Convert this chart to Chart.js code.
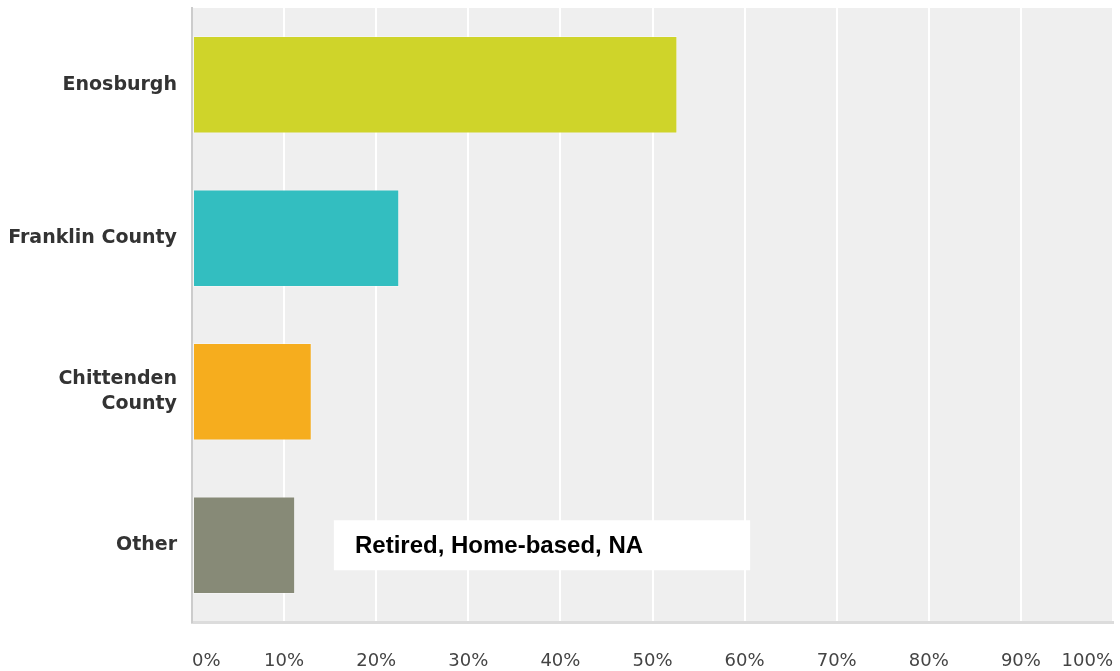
<!DOCTYPE html>
<html>
<head>
<meta charset="utf-8">
<script src="https://cdn.jsdelivr.net/npm/chart.js@4/dist/chart.umd.min.js"></script>
<style>
html,body{margin:0;padding:0;background:#fff;}
#wrap{width:1120px;height:671px;position:relative;}
</style>
</head>
<body>
<div id="wrap"><canvas id="c"></canvas></div>
<script>
const categories = ['Enosburgh', 'Franklin County', ['Chittenden', 'County'], 'Other'];
const values = [52.7, 22.5, 13.0, 11.2];
const barColors = ['#cfd42a', '#33bec0', '#f6ad1e', '#878a77'];
const tickValues = [0, 10, 20, 30, 40, 50, 60, 70, 80, 90, 100];
const noteText = 'Retired, Home-based, NA';
const noteCategory = 3;
const noteRange = [15.4, 60.6];
const noteTextStart = 17.7;

const plotBg = {
  id: 'plotBg',
  beforeDraw(chart) {
    const {ctx, chartArea: a} = chart;
    ctx.save();
    ctx.fillStyle = '#efefef';
    ctx.fillRect(a.left, a.top, a.right - a.left, a.bottom - a.top);
    ctx.restore();
  }
};

const notePlugin = {
  id: 'note',
  afterDraw(chart) {
    const {ctx} = chart;
    const x = chart.scales.x, y = chart.scales.y;
    const x0 = x.getPixelForValue(noteRange[0]);
    const x1 = x.getPixelForValue(noteRange[1]);
    const yc = y.getPixelForValue(noteCategory);
    ctx.save();
    ctx.fillStyle = '#ffffff';
    ctx.fillRect(x0, yc - 25, x1 - x0, 50);
    ctx.fillStyle = '#000000';
    ctx.font = 'bold 24px "Liberation Sans", Arial, sans-serif';
    ctx.textBaseline = 'middle';
    ctx.textAlign = 'left';
    ctx.fillText(noteText, x.getPixelForValue(noteTextStart), yc + 1);
    ctx.restore();
  }
};

new Chart(document.getElementById('c'), {
  type: 'bar',
  data: {
    labels: categories,
    datasets: [{
      data: values,
      backgroundColor: barColors,
      borderColor: 'rgba(255,255,255,0.3)',
      borderWidth: 1,
      borderSkipped: false,
      barPercentage: 0.635,
      categoryPercentage: 1.0
    }]
  },
  options: {
    indexAxis: 'y',
    responsive: true,
    maintainAspectRatio: false,
    animation: false,
    layout: {padding: {top: 8, right: 7, left: 0, bottom: 0}},
    plugins: {legend: {display: false}, tooltip: {enabled: false}},
    scales: {
      x: {
        min: 0, max: 100,
        afterBuildTicks(scale) { scale.ticks = tickValues.map(v => ({value: v})); },
        afterFit(scale) {
          scale.height = 49;
          scale.paddingLeft = 0; scale.paddingRight = 0;
          scale.paddingTop = 0; scale.paddingBottom = 0;
        },
        grid: {
          color: (c) => (c.index === 0 ? 'rgba(0,0,0,0)' : '#ffffff'),
          lineWidth: 2,
          drawTicks: false
        },
        border: {display: true, color: '#dcdcdc', width: 3},
        ticks: {
          align: 'inner',
          padding: 29,
          color: '#444444',
          maxRotation: 0,
          font: {family: '"DejaVu Sans", Verdana, sans-serif', size: 18},
          callback: (v) => v + '%'
        }
      },
      y: {
        afterFit(scale) {
          scale.width = 192;
          scale.paddingTop = 0; scale.paddingBottom = 0;
          scale.paddingLeft = 0; scale.paddingRight = 0;
        },
        grid: {display: false, drawTicks: false},
        border: {display: true, color: '#cccccc', width: 2},
        ticks: {
          padding: 15,
          color: '#333333',
          font: {family: '"DejaVu Sans", Verdana, sans-serif', size: 19, weight: 'bold', lineHeight: 1.3}
        }
      }
    }
  },
  plugins: [plotBg, notePlugin]
});
</script>
</body>
</html>
